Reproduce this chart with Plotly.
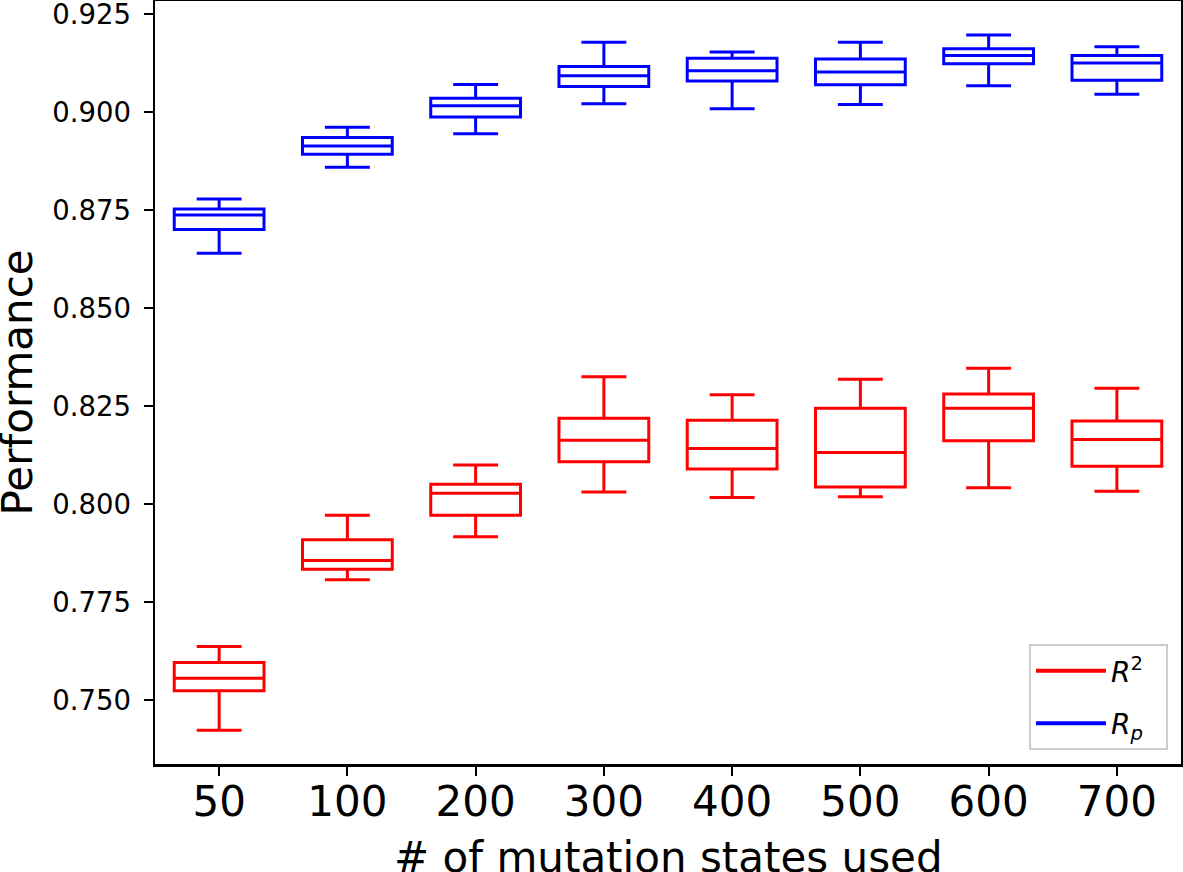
import plotly.graph_objects as go

categories = ["50", "100", "200", "300", "400", "500", "600", "700"]

# R^2 (red) box statistics
r2_lower = [0.7423, 0.7807, 0.7917, 0.8031, 0.8017, 0.8019, 0.8042, 0.8033]
r2_q1 = [0.7524, 0.7834, 0.7972, 0.8108, 0.8090, 0.8044, 0.8162, 0.8097]
r2_median = [0.7556, 0.7856, 0.8028, 0.8163, 0.8142, 0.8132, 0.8245, 0.8165]
r2_q3 = [0.7596, 0.7909, 0.8051, 0.8219, 0.8214, 0.8245, 0.8281, 0.8212]
r2_upper = [0.7637, 0.7972, 0.8100, 0.8325, 0.8279, 0.8319, 0.8347, 0.8296]

# Rp (blue) box statistics
rp_lower = [0.8640, 0.8860, 0.8945, 0.9022, 0.9009, 0.9020, 0.9068, 0.9046]
rp_q1 = [0.8701, 0.8893, 0.8988, 0.9066, 0.9080, 0.9070, 0.9124, 0.9082]
rp_median = [0.8738, 0.8914, 0.9017, 0.9093, 0.9106, 0.9103, 0.9145, 0.9126]
rp_q3 = [0.8753, 0.8936, 0.9036, 0.9117, 0.9138, 0.9136, 0.9162, 0.9145]
rp_upper = [0.8779, 0.8962, 0.9071, 0.9179, 0.9154, 0.9179, 0.9197, 0.9167]

y_ticks = [0.750, 0.775, 0.800, 0.825, 0.850, 0.875, 0.900, 0.925]

FONT = "DejaVu Sans"
RED = "#ff0000"
BLUE = "#0000ff"

fig = go.Figure()

fig.add_trace(go.Box(
    x=categories, q1=r2_q1, median=r2_median, q3=r2_q3,
    lowerfence=r2_lower, upperfence=r2_upper,
    line=dict(color=RED, width=3), fillcolor="rgba(0,0,0,0)",
    width=0.7, whiskerwidth=0.5, showlegend=False, hoverinfo="skip",
))
fig.add_trace(go.Box(
    x=categories, q1=rp_q1, median=rp_median, q3=rp_q3,
    lowerfence=rp_lower, upperfence=rp_upper,
    line=dict(color=BLUE, width=3), fillcolor="rgba(0,0,0,0)",
    width=0.7, whiskerwidth=0.5, showlegend=False, hoverinfo="skip",
))

# legend entries drawn as lines (like matplotlib proxies)
fig.add_trace(go.Scatter(x=[None], y=[None], mode="lines",
                         line=dict(color=RED, width=4), legendgroup="a",
                         name="<i>R</i><sup>2</sup>&nbsp;&nbsp;"))
fig.add_trace(go.Scatter(x=[None], y=[None], mode="lines",
                         line=dict(color=BLUE, width=4), legendgroup="b",
                         name="<i>R</i><sub><i>p</i></sub>&nbsp;&nbsp;"))

fig.update_layout(
    width=1183, height=872,
    margin=dict(l=155, r=2, t=1, b=108),
    paper_bgcolor="white", plot_bgcolor="white",
    boxmode="overlay",
    font=dict(family=FONT, color="black"),
    showlegend=True,
    legend=dict(
        x=0.9873, y=0.0183, xanchor="right", yanchor="bottom",
        bgcolor="rgba(255,255,255,0.8)", bordercolor="#cccccc", borderwidth=2,
        font=dict(size=28, family=FONT),
        itemwidth=70, tracegroupgap=13, traceorder="grouped",
    ),
    annotations=[
        dict(text="# of mutation states used", xref="paper", yref="paper",
             x=0.5, y=-0.1415, xanchor="center", yanchor="bottom", yshift=-12,
             showarrow=False, font=dict(size=42, family=FONT)),
        dict(text="Performance", xref="paper", yref="paper", textangle=-90,
             x=-0.1345, y=0.5, xanchor="center", yanchor="middle",
             showarrow=False, font=dict(size=42, family=FONT)),
    ],
)

fig.update_xaxes(
    type="category", categoryorder="array", categoryarray=categories,
    range=[-0.5, 7.5], automargin=False,
    showline=True, linecolor="black", linewidth=2.5, mirror=True,
    ticks="outside", ticklen=9, tickwidth=2, tickcolor="black",
    tickfont=dict(size=42, family=FONT),
    ticklabelstandoff=-10, ticklabeloverflow="allow",
    showgrid=False, zeroline=False,
)
fig.update_yaxes(
    range=[0.7337, 0.9284], automargin=False,
    tickvals=y_ticks, tickformat=".3f",
    showline=True, linecolor="black", linewidth=2.5, mirror=True,
    ticks="outside", ticklen=9, tickwidth=2, tickcolor="black",
    tickfont=dict(size=27.5, family=FONT),
    ticklabelstandoff=7, ticklabeloverflow="allow",
    showgrid=False, zeroline=False,
)

fig.write_html("out.html", config={"displayModeBar": False, "staticPlot": True})

# remove the default page margin so the figure sits at the window's corner
with open("out.html", "r", encoding="utf-8") as f:
    html = f.read()
html = html.replace("<head>", "<head><style>html,body{margin:0;padding:0;overflow:hidden;}</style>", 1)
with open("out.html", "w", encoding="utf-8") as f:
    f.write(html)
